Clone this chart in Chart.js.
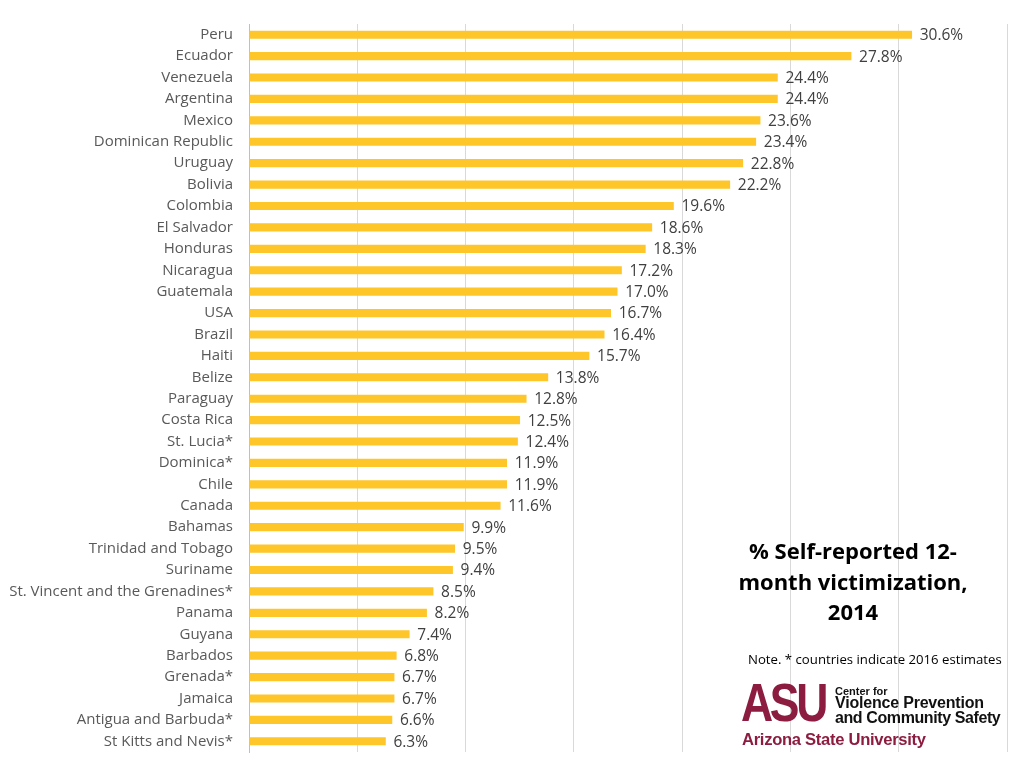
<!DOCTYPE html>
<html>
<head>
<meta charset="utf-8">
<script src="https://cdn.jsdelivr.net/npm/chart.js@4"></script>
<style>
  html, body { margin: 0; padding: 0; background: #fff; }
  #wrap { position: relative; width: 1024px; height: 768px; font-family: "Open Sans", sans-serif; }
  #chart { position: absolute; left: 0; top: 0; }
  .title { position: absolute; left: 720px; top: 535px; width: 266px; text-align: center;
           font-weight: bold; font-size: 22px; line-height: 30.5px; color: #000; }
  .note { position: absolute; left: 748px; top: 650px; font-size: 13.2px; color: #000; white-space: nowrap; }
  .asu { position: absolute; left: 741px; top: 675px; font-family: "Liberation Sans", Arial, sans-serif;
         font-weight: bold; font-size: 53px; color: #8C1D40; letter-spacing: -4px;
         transform: scaleX(0.84); transform-origin: left top; line-height: 56px; }
  .cvp { position: absolute; left: 835px; font-family: "Liberation Sans", Arial, sans-serif;
         font-weight: bold; color: #111; white-space: nowrap; }
  .univ { position: absolute; left: 742px; top: 730px; font-family: "Liberation Sans", Arial, sans-serif;
          font-weight: bold; font-size: 16.6px; color: #8C1D40; white-space: nowrap; letter-spacing: -0.3px; }
</style>
</head>
<body>
<div id="wrap">
  <canvas id="chart" width="1024" height="768"></canvas>
  <div class="title">% Self-reported 12-<br>month victimization,<br>2014</div>
  <div class="note">Note. * countries indicate 2016 estimates</div>
  <div class="asu">ASU</div>
  <div class="cvp" style="top:685px;font-size:11px;">Center for</div>
  <div class="cvp" style="top:694px;font-size:16px;letter-spacing:-0.2px;">Violence Prevention</div>
  <div class="cvp" style="top:709px;font-size:16px;letter-spacing:-0.4px;">and Community Safety</div>
  <div class="univ">Arizona State University</div>
</div>
<script>
// pays et taux de victimisation (%)
const countries = [
  'Peru', 'Ecuador', 'Venezuela', 'Argentina', 'Mexico', 'Dominican Republic',
  'Uruguay', 'Bolivia', 'Colombia', 'El Salvador', 'Honduras', 'Nicaragua',
  'Guatemala', 'USA', 'Brazil', 'Haiti', 'Belize', 'Paraguay', 'Costa Rica',
  'St. Lucia*', 'Dominica*', 'Chile', 'Canada', 'Bahamas', 'Trinidad and Tobago',
  'Suriname', 'St. Vincent and the Grenadines*', 'Panama', 'Guyana', 'Barbados',
  'Grenada*', 'Jamaica', 'Antigua and Barbuda*', 'St Kitts and Nevis*'
];
const rates = [
  30.6, 27.8, 24.4, 24.4, 23.6, 23.4,
  22.8, 22.2, 19.6, 18.6, 18.3, 17.2,
  17.0, 16.7, 16.4, 15.7, 13.8, 12.8, 12.5,
  12.4, 11.9, 11.9, 11.6, 9.9, 9.5,
  9.4, 8.5, 8.2, 7.4, 6.8,
  6.7, 6.7, 6.6, 6.3
];
const axisMax = 35;
const axisStep = 5;

// étiquettes de valeur au bout des barres
const valueLabels = {
  id: 'valueLabels',
  afterDatasetsDraw(chart) {
    const ctx = chart.ctx;
    const meta = chart.getDatasetMeta(0);
    ctx.save();
    ctx.font = '15.5px "Open Sans"';
    ctx.fillStyle = '#404040';
    ctx.textAlign = 'left';
    ctx.textBaseline = 'middle';
    meta.data.forEach((bar, i) => {
      ctx.fillText(rates[i].toFixed(1) + '%', bar.x + 8, bar.y + 1);
    });
    ctx.restore();
  }
};

new Chart(document.getElementById('chart'), {
  type: 'bar',
  data: {
    labels: countries,
    datasets: [{
      data: rates,
      backgroundColor: '#FFC629',
      barThickness: 7.5
    }]
  },
  options: {
    indexAxis: 'y',
    responsive: false,
    animation: false,
    layout: { padding: { top: 24, bottom: 16, right: 17, left: 0 } },
    plugins: { legend: { display: false }, tooltip: { enabled: false } },
    scales: {
      x: {
        min: 0, max: axisMax,
        afterFit(scale) { scale.height = 0; scale.paddingLeft = 0; scale.paddingRight = 0; },
        ticks: { display: false, stepSize: axisStep },
        grid: { color: '#d9d9d9', drawTicks: false },
        border: { display: false }
      },
      y: {
        afterFit(scale) { scale.width = 249; scale.paddingTop = 0; scale.paddingBottom = 0; },
        ticks: { color: '#595959', font: { family: 'Open Sans', size: 15 }, padding: 16, autoSkip: false },
        grid: { display: false, drawTicks: false },
        border: { color: '#bfbfbf' }
      }
    }
  },
  plugins: [valueLabels]
});
</script>
</body>
</html>
